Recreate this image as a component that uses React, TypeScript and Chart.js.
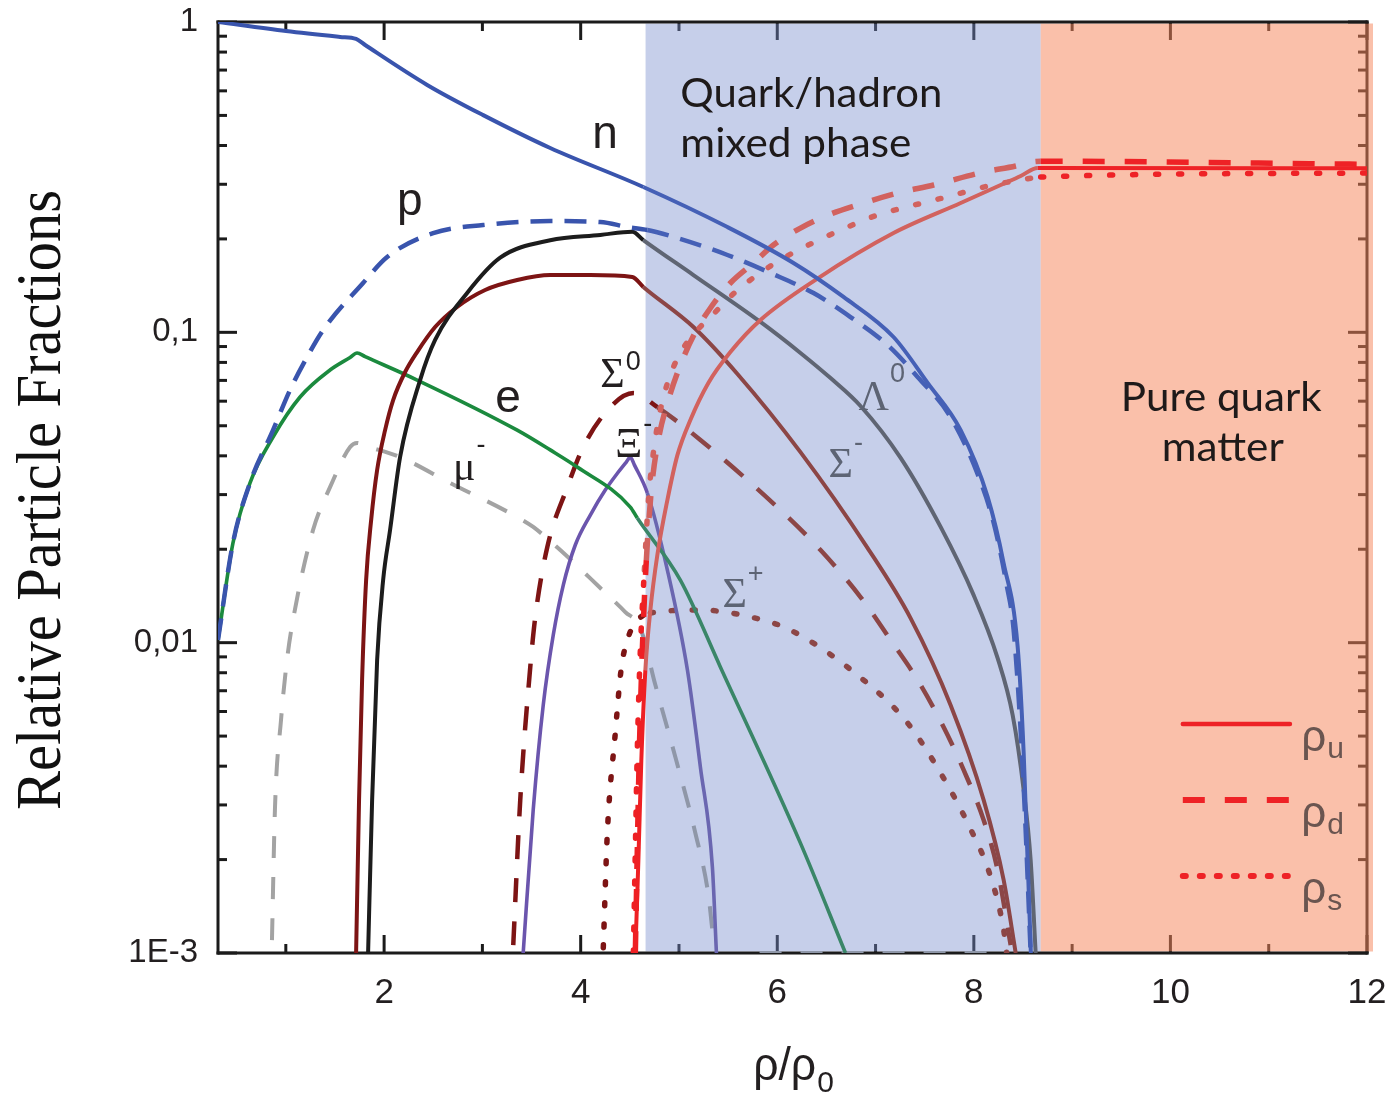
import React, { useEffect, useRef } from "react";
import { Chart, registerables } from "chart.js";
Chart.register(...registerables);

// ---------- axes ----------
const X_MIN = 0.31;
const X_MAX = 12;
const Y_MIN = 0.001;
const Y_MAX = 1;
const xTicks = [2, 4, 6, 8, 10, 12];
const xTickLabels = ["2", "4", "6", "8", "10", "12"];
const xMinorTicks = [1, 3, 5, 7, 9, 11];
const yTicks = [0.001, 0.01, 0.1, 1];
const yTickLabels = ["1E-3", "0,01", "0,1", "1"];

// phase boundaries (rho/rho0)
const MIXED_START = 4.66;
const MIXED_END = 8.68;

// ---------- series ----------
const nX = [0.31, 1.002, 1.552, 1.715, 1.807, 2.438, 3.008, 3.69, 4.637, 5.493, 6.165, 6.674, 7.183, 7.53, 7.866, 8.141, 8.303, 8.446, 8.507, 8.58];
const nY = [1.0, 0.935, 0.895, 0.882, 0.843, 0.627, 0.501, 0.3926, 0.294, 0.2184, 0.1673, 0.13, 0.0966, 0.0687, 0.0484, 0.02945, 0.01805, 0.00968, 0.00441, 0.001];

const pX = [0.31, 0.462, 0.635, 0.87, 1.043, 1.216, 1.379, 1.786, 2.031, 2.499, 3.008, 3.69, 4.2, 4.475, 4.678, 4.984, 5.493, 5.931, 6.369, 6.745, 7.122, 7.428, 7.764, 8.039, 8.202, 8.334, 8.405, 8.507, 8.578];
const pY = [0.0102, 0.02094, 0.03268, 0.0484, 0.0652, 0.0832, 0.1017, 0.1442, 0.1749, 0.2089, 0.2217, 0.2284, 0.2267, 0.2184, 0.2137, 0.2013, 0.1775, 0.1553, 0.1338, 0.112, 0.091, 0.0718, 0.0533, 0.0349, 0.0243, 0.01533, 0.01098, 0.00342, 0.001];

const eX = [0.31, 0.462, 0.635, 0.87, 1.145, 1.45, 1.654, 1.725, 1.807, 2.336, 3.354, 3.69, 3.965, 4.505, 4.576, 5.014, 5.422, 6.236, 6.694];
const eY = [0.0102, 0.02094, 0.03268, 0.046, 0.0619, 0.0756, 0.083, 0.0858, 0.0835, 0.0702, 0.0484, 0.0418, 0.0368, 0.02735, 0.0252, 0.0159, 0.00834, 0.00226, 0.001];

const muX = [0.859, 0.89, 0.951, 1.012, 1.073, 1.277, 1.45, 1.654, 1.725, 1.807, 2.163, 2.672, 3.354, 3.517, 3.792, 4.2, 4.454, 4.607, 4.76, 4.963, 5.167, 5.299, 5.35];
const muY = [0.0011, 0.00295, 0.00563, 0.00879, 0.01183, 0.02306, 0.0317, 0.0427, 0.044, 0.0431, 0.0396, 0.0327, 0.0254, 0.0236, 0.01988, 0.015, 0.01255, 0.01114, 0.0073, 0.00428, 0.00243, 0.00154, 0.0011];
const muTailX = [5.82, 8.25];
const muTailY = [0.001, 0.001];

const lamX = [1.837, 1.878, 1.929, 1.99, 2.061, 2.163, 2.367, 2.519, 2.845, 3.181, 3.69, 4.2, 4.525, 4.637, 5.147, 5.829, 6.236, 6.542, 6.847, 7.255, 7.662, 7.998, 8.242, 8.395, 8.507, 8.578, 8.629];
const lamY = [0.001, 0.00311, 0.00879, 0.0159, 0.0231, 0.0397, 0.0703, 0.0945, 0.134, 0.174, 0.198, 0.206, 0.211, 0.1983, 0.153, 0.108, 0.0858, 0.0712, 0.0579, 0.0394, 0.0236, 0.01423, 0.00892, 0.00584, 0.00335, 0.00199, 0.001];

const sigMX = [1.715, 1.745, 1.776, 1.817, 1.868, 1.929, 2.01, 2.092, 2.214, 2.336, 2.519, 2.743, 3.028, 3.354, 3.69, 4.098, 4.525, 4.637, 5.147, 5.595, 6.236, 6.918, 7.356, 7.764, 8.1, 8.303, 8.426];
const sigMY = [0.001, 0.00311, 0.00758, 0.0159, 0.0248, 0.036, 0.0484, 0.0605, 0.0745, 0.0864, 0.104, 0.1207, 0.1369, 0.1474, 0.153, 0.153, 0.1508, 0.14, 0.104, 0.0734, 0.0411, 0.0202, 0.012, 0.00629, 0.00311, 0.00172, 0.001];

const sig0X = [3.314, 3.385, 3.487, 3.538, 3.66, 3.864, 4.026, 4.301, 4.536, 4.78, 5.218, 6.063, 6.44, 6.847, 7.153, 7.428, 7.692, 7.896, 8.1, 8.242, 8.375];
const sig0Y = [0.00106, 0.00311, 0.00834, 0.0121, 0.0203, 0.0317, 0.0427, 0.0574, 0.0637, 0.0574, 0.045, 0.0262, 0.01988, 0.01403, 0.0102, 0.00758, 0.00535, 0.00389, 0.00268, 0.00185, 0.00106];

const sigPX = [4.23, 4.271, 4.352, 4.413, 4.475, 4.546, 4.709, 5.218, 5.727, 6.134, 6.878, 7.326, 7.662, 7.937, 8.171, 8.303, 8.334];
const sigPY = [0.00104, 0.00243, 0.00511, 0.00828, 0.0102, 0.01148, 0.01246, 0.01274, 0.0121, 0.01098, 0.00758, 0.00551, 0.0038, 0.00262, 0.00176, 0.00119, 0.001];

const xiX = [3.415, 3.517, 3.619, 3.721, 3.823, 3.945, 4.098, 4.25, 4.383, 4.464, 4.505, 4.546, 4.678, 4.882, 5.086, 5.218, 5.34, 5.381];
const xiY = [0.001, 0.00289, 0.00629, 0.01058, 0.01533, 0.02064, 0.02578, 0.03102, 0.03547, 0.0382, 0.0396, 0.0374, 0.03035, 0.01714, 0.00816, 0.00397, 0.00189, 0.001];

const uX = [4.556, 4.587, 4.617, 4.658, 4.709, 4.78, 4.882, 4.984, 5.116, 5.299, 5.523, 5.829, 6.409, 7.183, 7.866, 8.273, 8.477, 8.65, 12];
const uY = [0.001, 0.00199, 0.00418, 0.00816, 0.01274, 0.01916, 0.0288, 0.0402, 0.0522, 0.0687, 0.0864, 0.1096, 0.149, 0.2089, 0.261, 0.2984, 0.319, 0.3385, 0.338];

const dX = [4.556, 4.576, 4.597, 4.627, 4.668, 4.719, 4.79, 4.892, 5.014, 5.167, 5.32, 5.523, 5.758, 5.961, 6.236, 6.542, 6.847, 7.224, 7.591, 8.1, 8.426, 8.578, 8.68, 12];
const dY = [0.001, 0.00215, 0.00451, 0.00947, 0.01846, 0.03102, 0.045, 0.0605, 0.0784, 0.1002, 0.1198, 0.1442, 0.1673, 0.1911, 0.2168, 0.2405, 0.2592, 0.2812, 0.2984, 0.3285, 0.3436, 0.3538, 0.356, 0.348];

const sX = [4.536, 4.556, 4.576, 4.607, 4.648, 4.689, 4.739, 4.811, 4.912, 5.045, 5.187, 5.34, 5.574, 5.839, 6.083, 6.338, 6.623, 7.02, 7.356, 7.682, 8.191, 8.477, 8.68, 12];
const sY = [0.001, 0.00215, 0.00451, 0.00947, 0.01714, 0.0288, 0.0408, 0.0562, 0.0729, 0.089, 0.1017, 0.1137, 0.1349, 0.1564, 0.1749, 0.1926, 0.2121, 0.2388, 0.2553, 0.2709, 0.2984, 0.3095, 0.3166, 0.326];

// ---------- styling ----------
const AXIS = "#1b1b1b";
const TEXT = "#231f20";
const MIXED_FILL = "rgba(120,140,205,0.42)";
const PURE_FILL = "rgba(246,135,92,0.52)";
const SANS_N = '"Liberation Sans Narrow", "Liberation Sans", Arial, sans-serif';
const SANS = '"Liberation Sans", Arial, sans-serif';
const SERIF = '"Liberation Serif", "Times New Roman", serif';
const CAL = 'Lato, "Open Sans", sans-serif';

const BLUE = "#3954ad", BLUE_M = "#4560b6";
const GREEN = "#1b8a3e", GREEN_M = "#3a8668";
const BLACK = "#1c1c1c", BLACK_M = "#5f6573";
const DRED = "#7d1414", DRED_M = "#8c4646";
const GREY = "#a3a3a3", GREY_M = "#8f97a8";
const PURPLE = "#6b55ad", PURPLE_M = "#6a66b0";
const RED = "#ee2024", RED_M = "#d2625e", RED_P = "#ee2226";

const pts = (xs: number[], ys: number[]) => xs.map((x, i) => ({ x, y: ys[i] }));

function segColor(out: string, mixed: string, pure: string) {
  return (c: any) => {
    const data = c.chart.data.datasets[c.datasetIndex].data as any[];
    const a = data[c.p0DataIndex];
    const b = data[c.p1DataIndex];
    if (!a || !b) return out;
    const m = (a.x + b.x) / 2;
    if (m > MIXED_START && m < MIXED_END) return mixed;
    if (m >= MIXED_END) return pure;
    return out;
  };
}

function line(label: string, xs: number[], ys: number[], out: string, mixed: string, pure: string, width: number, dash: number[], cap: string = "butt") {
  return {
    label,
    data: pts(xs, ys),
    borderColor: out,
    borderWidth: width,
    borderDash: dash,
    borderCapStyle: cap,
    borderJoinStyle: "round",
    pointRadius: 0,
    pointHoverRadius: 0,
    fill: false,
    cubicInterpolationMode: "monotone",
    segment: { borderColor: segColor(out, mixed, pure) },
  };
}

// ---------- annotations ----------
const particleLabels = [
  { base: "μ", sup: "-", x: 2.7, y: 0.0334, dy: 27, grey: false },
  { base: "Σ", sup: "0", x: 4.2, y: 0.0667, dy: 17, grey: false },
  { base: "Ξ", sup: "-", x: 4.352, y: 0.0396, dy: 25, grey: false },
  { base: "Λ", sup: "0", x: 6.827, y: 0.0562, dy: 28, grey: true },
  { base: "Σ", sup: "-", x: 6.521, y: 0.0342, dy: 26, grey: true },
  { base: "Σ", sup: "+", x: 5.442, y: 0.01302, dy: 25, grey: true },
];
const letterLabels = [
  { t: "n", x: 4.118, y: 0.3926 },
  { t: "p", x: 2.132, y: 0.2388 },
  { t: "e", x: 3.13, y: 0.0553 },
];
const phaseLabels = [
  { t: "Quark/hadron", x: 5.014, y: 0.532, w: 262 },
  { t: "mixed phase", x: 5.014, y: 0.367, w: 231 },
  { t: "Pure quark", x: 9.495, y: 0.0558, w: 201 },
  { t: "matter", x: 9.912, y: 0.0385, w: 122 },
];
const legendItems = [
  { sub: "u", y: 0.00547, dash: [] as number[], width: 4.5, cap: "round" },
  { sub: "d", y: 0.00311, dash: [22, 20], width: 6, cap: "butt" },
  { sub: "s", y: 0.00177, dash: [3, 14], width: 6, cap: "round" },
];
const LEGEND_X0 = 10.126;
const LEGEND_X1 = 11.216;
const LEGEND_TX = 11.33;

function fitText(ctx: CanvasRenderingContext2D, text: string, x: number, y: number, width: number, font: string, color: string) {
  ctx.save();
  ctx.font = font;
  const w = ctx.measureText(text).width;
  ctx.translate(x, y);
  ctx.scale(width / w, 1);
  ctx.fillStyle = color;
  ctx.textAlign = "left";
  ctx.textBaseline = "alphabetic";
  ctx.fillText(text, 0, 0);
  ctx.restore();
}

const decor = {
  id: "decor",
  beforeDatasetsDraw(chart: any) {
    const { ctx, chartArea: a } = chart;
    const xs = chart.scales.x;
    const ys = chart.scales.y;
    const L = a.left, R = a.right, T = a.top, B = a.bottom;
    ctx.save();
    ctx.strokeStyle = AXIS;
    ctx.lineWidth = 3;
    ctx.lineCap = "butt";
    const seg = (x1: number, y1: number, x2: number, y2: number) => {
      ctx.beginPath();
      ctx.moveTo(x1, y1);
      ctx.lineTo(x2, y2);
      ctx.stroke();
    };
    for (const d of [0.001, 0.01, 0.1]) {
      for (let k = 2; k <= 9; k++) {
        const py = ys.getPixelForValue(k * d);
        seg(L, py, L + 9, py);
        seg(R, py, R - 9, py);
      }
    }
    for (const v of yTicks) {
      const py = ys.getPixelForValue(v);
      seg(L, py, L + 19, py);
      seg(R, py, R - 19, py);
    }
    for (const v of xMinorTicks) {
      const px = xs.getPixelForValue(v);
      seg(px, B, px, B - 9);
      seg(px, T, px, T + 9);
    }
    for (const v of xTicks) {
      const px = xs.getPixelForValue(v);
      seg(px, B, px, B - 18);
      seg(px, T, px, T + 18);
    }
    seg(L, T - 1.5, L, B + 1.5);
    seg(R, T - 1.5, R, B + 1.5);
    const mx0 = xs.getPixelForValue(MIXED_START);
    const mx1 = xs.getPixelForValue(MIXED_END);
    ctx.fillStyle = MIXED_FILL;
    ctx.fillRect(mx0, T + 1.5, mx1 - mx0, B - T - 3);
    ctx.fillStyle = PURE_FILL;
    ctx.fillRect(mx1, T + 1.5, R + 6 - mx1, B - T - 3);
    seg(L - 1.5, T, R + 1.5, T);
    seg(L - 1.5, B, R + 1.5, B);

    // tick labels
    ctx.fillStyle = TEXT;
    ctx.font = `35px ${SANS_N}`;
    ctx.textAlign = "center";
    ctx.textBaseline = "alphabetic";
    xTicks.forEach((v, i) => {
      ctx.fillText(xTickLabels[i], xs.getPixelForValue(v), B + 50);
    });
    ctx.font = `33px ${SANS}`;
    ctx.textAlign = "right";
    ctx.textBaseline = "middle";
    yTicks.forEach((v, i) => {
      ctx.fillText(yTickLabels[i], L - 20, ys.getPixelForValue(v));
    });
    ctx.restore();
  },
  afterDatasetsDraw(chart: any) {
    const { ctx } = chart;
    const xs = chart.scales.x;
    const ys = chart.scales.y;
    ctx.save();
    ctx.textAlign = "left";
    ctx.textBaseline = "alphabetic";
    for (const l of letterLabels) {
      ctx.font = `46px ${SANS_N}`;
      ctx.fillStyle = TEXT;
      ctx.fillText(l.t, xs.getPixelForValue(l.x), ys.getPixelForValue(l.y));
    }
    for (const l of particleLabels) {
      const px = xs.getPixelForValue(l.x);
      const py = ys.getPixelForValue(l.y);
      ctx.fillStyle = l.grey ? "#5d6474" : TEXT;
      ctx.font = `42px ${SERIF}`;
      ctx.fillText(l.base, px, py);
      const w = ctx.measureText(l.base).width;
      ctx.font = `27px ${SANS}`;
      ctx.fillText(l.sup, px + w + 1, py - l.dy);
    }
    for (const l of phaseLabels) {
      fitText(ctx, l.t, xs.getPixelForValue(l.x), ys.getPixelForValue(l.y), l.w, `40px ${CAL}`, "#1e1a1a");
    }
    for (const it of legendItems) {
      const py = ys.getPixelForValue(it.y);
      ctx.strokeStyle = RED_P;
      ctx.lineWidth = it.width;
      ctx.lineCap = it.cap as CanvasLineCap;
      ctx.setLineDash(it.dash);
      ctx.beginPath();
      ctx.moveTo(xs.getPixelForValue(LEGEND_X0), py);
      ctx.lineTo(xs.getPixelForValue(LEGEND_X1), py);
      ctx.stroke();
      ctx.setLineDash([]);
      const tx = xs.getPixelForValue(LEGEND_TX);
      ctx.fillStyle = "#6a5550";
      ctx.font = `44px ${SANS_N}`;
      ctx.fillText("ρ", tx, py + 27);
      const w = ctx.measureText("ρ").width;
      ctx.font = `30px ${SANS_N}`;
      ctx.fillText(it.sub, tx + w + 1, py + 34);
    }
    ctx.restore();
  },
  afterDraw(chart: any) {
    const { ctx } = chart;
    ctx.save();
    const title = "Relative Particle Fractions";
    ctx.translate(60, 500);
    ctx.rotate(-Math.PI / 2);
    ctx.font = `64px ${SERIF}`;
    const w = ctx.measureText(title).width;
    ctx.scale(620 / w, 1);
    ctx.fillStyle = "#111";
    ctx.textAlign = "center";
    ctx.textBaseline = "alphabetic";
    ctx.fillText(title, 0, 0);
    ctx.restore();

    ctx.save();
    ctx.font = `30px ${SANS_N}`;
    const sw = ctx.measureText("0").width;
    const start = 793 - (63 + sw) / 2;
    fitText(ctx, "ρ/ρ", start, 1080, 63, `46px ${SANS_N}`, TEXT);
    ctx.font = `30px ${SANS_N}`;
    ctx.fillStyle = TEXT;
    ctx.textAlign = "left";
    ctx.textBaseline = "alphabetic";
    ctx.fillText("0", start + 63 + 1, 1092);
    ctx.restore();
  },
};

export default function App() {
  const ref = useRef<HTMLCanvasElement | null>(null);
  useEffect(() => {
    if (!ref.current) return;
    const datasets = [
      line("n", nX, nY, BLUE, BLUE_M, BLUE, 4, []),
      line("ρu", uX, uY, RED, RED_M, RED_P, 4, []),
      line("ρd", dX, dY, RED, RED_M, RED_P, 5.5, [22, 20]),
      line("ρs", sX, sY, RED, RED_M, RED_P, 5.5, [3, 20], "round"),
      line("p", pX, pY, BLUE, BLUE_M, BLUE, 4.5, [22, 12]),
      line("Λ0", lamX, lamY, BLACK, BLACK_M, BLACK_M, 4, []),
      line("Σ-", sigMX, sigMY, DRED, DRED_M, DRED_M, 4, []),
      line("e", eX, eY, GREEN, GREEN_M, GREEN_M, 3.6, []),
      line("Ξ-", xiX, xiY, PURPLE, PURPLE_M, PURPLE_M, 3.6, []),
      line("Σ0", sig0X, sig0Y, DRED, DRED_M, DRED_M, 4.5, [24, 19]),
      line("Σ+", sigPX, sigPY, DRED, DRED_M, DRED_M, 5.5, [3, 18], "round"),
      line("μ-", muX, muY, GREY, GREY_M, GREY_M, 4, [22, 19]),
      line("μ- tail", muTailX, muTailY, GREY, GREY_M, GREY_M, 4, [22, 19]),
    ];
    const chart = new Chart(ref.current, {
      type: "line",
      data: { datasets: datasets as any },
      options: {
        responsive: false,
        animation: false,
        devicePixelRatio: 1,
        layout: { padding: { top: 22, right: 26, left: 218, bottom: 141 } },
        plugins: { legend: { display: false }, tooltip: { enabled: false }, title: { display: false } },
        scales: {
          x: { type: "linear", min: X_MIN, max: X_MAX, display: false },
          y: { type: "logarithmic", min: Y_MIN, max: Y_MAX, display: false },
        },
      } as any,
      plugins: [decor as any],
    });
    return () => chart.destroy();
  }, []);
  return (
    <div style={{ position: "absolute", left: 0, top: 0, width: 1393, height: 1094, background: "#fff" }}>
      <canvas ref={ref} width={1393} height={1094} style={{ display: "block", width: 1393, height: 1094 }} />
    </div>
  );
}
